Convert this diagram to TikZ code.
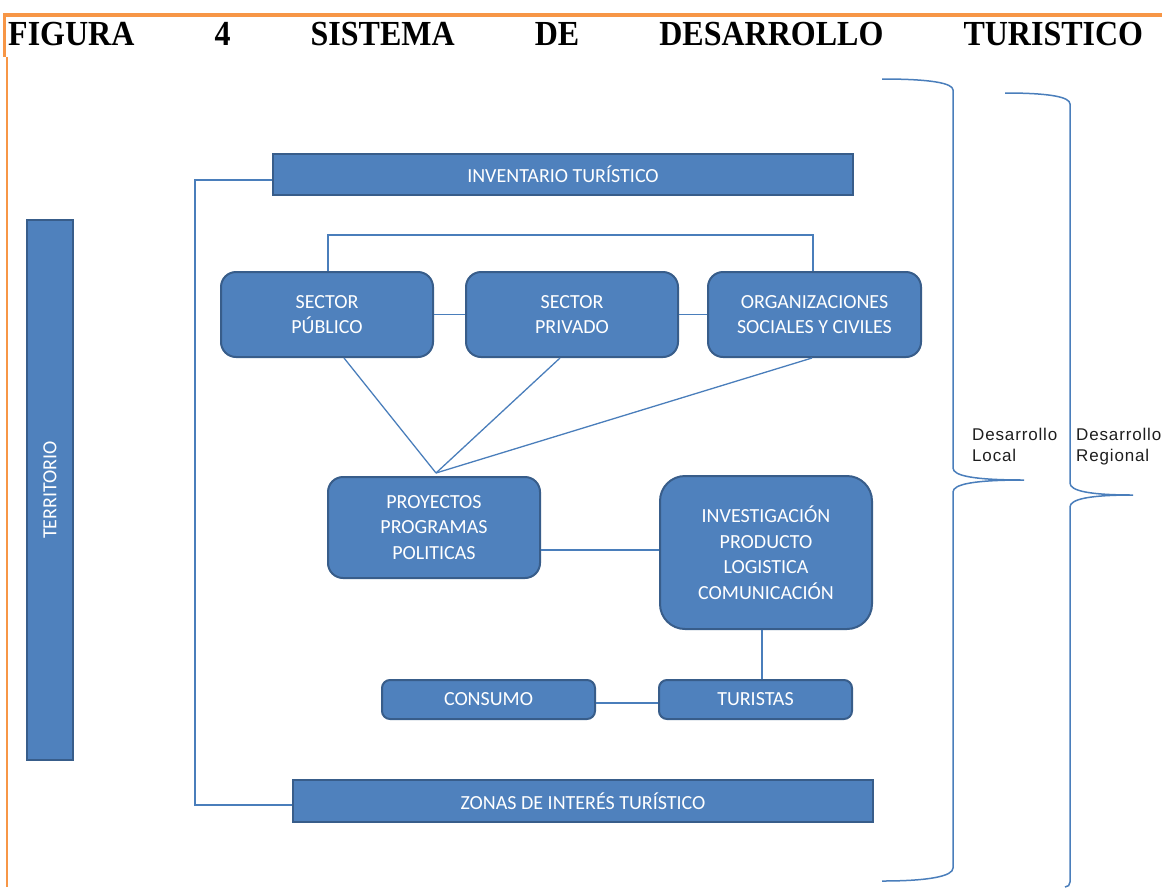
\documentclass[tikz,border=0pt]{standalone}
\usepackage{fontspec}
\setmainfont{Liberation Serif}
\newfontfamily\boxfont{Carlito}
\newfontfamily\labfont[LetterSpace=5]{Liberation Sans}
\usetikzlibrary{calc}
\definecolor{boxfill}{HTML}{4F81BD}
\definecolor{boxborder}{HTML}{385D8A}
\definecolor{linkcol}{HTML}{4A7EBB}
\definecolor{orangecol}{HTML}{F79646}
\definecolor{labcol}{HTML}{1E1E1E}
\tikzset{
  sbox/.style={draw=boxborder, fill=boxfill, line width=2pt, text=white,
    font=\boxfont\fontsize{20}{25.5}\selectfont, align=center, inner sep=0pt},
  rbox/.style={sbox, rounded corners=15pt},
  link/.style={draw=linkcol, line width=1.3pt},
  brace/.style={draw=linkcol, line width=1.5pt},
  sidelab/.style={text=labcol, font=\labfont\fontsize{17}{21}\selectfont, align=left, inner sep=0pt, anchor=north west}
}
\begin{document}
\begin{tikzpicture}[x=1pt,y=-1pt]
\useasboundingbox (0,0) rectangle (1162,887);
% orange frame
\draw[orangecol, line width=4pt] (3,15) -- (1162,15);
\draw[orangecol, line width=3pt] (4.5,13) -- (4.5,57);
\draw[orangecol, line width=1.3pt] (7,57) -- (7,887);
% title
\node[anchor=base west, inner sep=0pt] (title) at (8,45)
  {\scalebox{1}[1.1]{\bfseries\fontsize{32}{32}\selectfont\hbox to 1135pt{FIGURA\hfill 4\hfill SISTEMA\hfill DE\hfill DESARROLLO\hfill TURISTICO}}};
% boxes
\node[sbox, minimum width=46pt, minimum height=540pt] (terr) at (50,490) {\rotatebox{90}{TERRITORIO}};
\node[sbox, minimum width=580pt, minimum height=41pt] (inv) at (563,174.5) {INVENTARIO TURÍSTICO};
\node[sbox, minimum width=580pt, minimum height=42pt] (zon) at (583,801) {ZONAS DE INTERÉS TURÍSTICO};
\node[rbox, minimum width=212pt, minimum height=85pt] (pub) at (327,314.5) {SECTOR\\PÚBLICO};
\node[rbox, minimum width=212pt, minimum height=85pt] (pri) at (572,314.5) {SECTOR\\PRIVADO};
\node[rbox, minimum width=213pt, minimum height=85pt] (org) at (814.5,314.5) {ORGANIZACIONES\\SOCIALES Y CIVILES};
\node[rbox, minimum width=212pt, minimum height=101pt] (proy) at (434,527.5) {PROYECTOS\\PROGRAMAS\\POLITICAS};
\node[rbox, rounded corners=25pt, minimum width=212pt, minimum height=153pt] (invest) at (766,552.5) {INVESTIGACIÓN\\PRODUCTO\\LOGISTICA\\COMUNICACIÓN};
\node[rbox, rounded corners=8pt, minimum width=213pt, minimum height=39pt] (cons) at (488.5,699.5) {CONSUMO};
\node[rbox, rounded corners=8pt, minimum width=193pt, minimum height=39pt] (tur) at (755.5,699.5) {TURISTAS};
% connectors
\draw[link] ([yshift=-5.5pt]inv.west) -- ++(-77,0) |- ([yshift=-4pt]zon.west);
\draw[link] ([xshift=1pt]pub.north) -- ++(0,-36) -| ([xshift=-1.5pt]org.north);
\draw[link] (pub.east) -- (pri.west);
\draw[link] (pri.east) -- (org.west);
\coordinate (apex) at (436,473);
\draw[link] ([xshift=17pt]pub.south) -- (apex);
\draw[link] ([xshift=-12pt]pri.south) -- (apex);
\draw[link] ([xshift=-2.5pt]org.south) -- (apex);
\draw[link] ([yshift=-22.5pt]proy.east) -- ([yshift=2.5pt]invest.west);
\draw[link] ([xshift=-4pt]invest.south) -- ([xshift=6.5pt]tur.north);
\draw[link] ([yshift=-3.5pt]cons.east) -- ([yshift=-3.5pt]tur.west);
% braces
\draw[brace] (882,79) .. controls (930,79) and (953,83) .. (953,90) -- (953,468)
  .. controls (953,476) and (975,480) .. (1024,480)
  .. controls (975,480) and (953,484) .. (953,492) -- (953,868)
  .. controls (953,876) and (930,881) .. (882,881);
\draw[brace] (1005,93) .. controls (1050,93) and (1070,97) .. (1070,104) -- (1070,483)
  .. controls (1070,491) and (1090,495) .. (1133,495)
  .. controls (1090,495) and (1070,499) .. (1070,507) -- (1070,882)
  .. controls (1070,885) and (1068,887) .. (1065,887);
\node[sidelab] (loc) at (972,428) {Desarrollo\\Local};
\node[sidelab] (reg) at (1076,428) {Desarrollo\\Regional};
\end{tikzpicture}
\end{document}
